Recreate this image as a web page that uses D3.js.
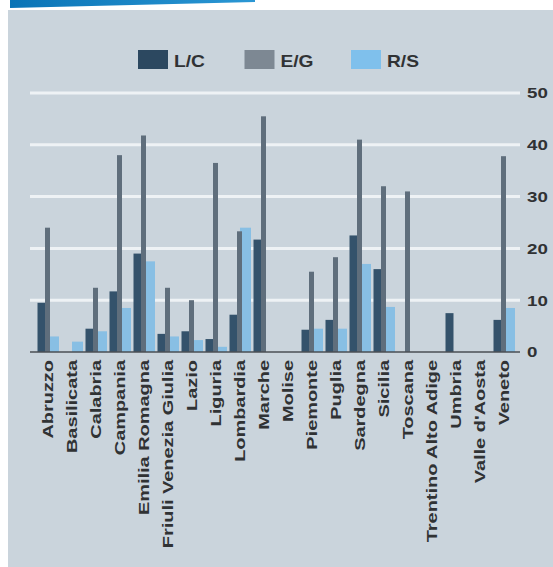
<!DOCTYPE html>
<html>
<head>
<meta charset="utf-8">
<script src="https://cdn.jsdelivr.net/npm/d3@7"></script>
<style>
  body { margin: 0; background: #fff; }
  text { font-family: "Liberation Sans", Arial, sans-serif; fill: #303234; font-weight: bold; }
</style>
</head>
<body>
<div id="chart"></div>
<script>
// regions on the x axis
var regions = ['Abruzzo', 'Basilicata', 'Calabria', 'Campania', 'Emilia Romagna',
  'Friuli Venezia Giulia', 'Lazio', 'Liguria', 'Lombardia', 'Marche', 'Molise',
  'Piemonte', 'Puglia', 'Sardegna', 'Sicilia', 'Toscana', 'Trentino Alto Adige',
  'Umbria', "Valle d'Aosta", 'Veneto']

var seriesNames = ['L/C', 'E/G', 'R/S']

// values
var lcValues = [9.5, 0, 4.5, 11.7, 19, 3.5, 4, 2.5, 7.2, 21.7, 0, 4.3, 6.2, 22.5, 16, 0, 0, 7.5, 0, 6.2]
var egValues = [24, 0, 12.4, 38, 41.8, 12.4, 10, 36.5, 23.3, 45.5, 0, 15.5, 18.3, 41, 32, 31, 0, 0, 0, 37.8]
var rsValues = [3, 2, 4, 8.5, 17.5, 3, 2.3, 1, 24, 0, 0, 4.5, 4.5, 17, 8.7, 0, 0, 0, 0, 8.5]

var yTicks = [0, 10, 20, 30, 40, 50]

var W = 553
var H = 567
var colors = {'L/C': '#34526b', 'E/G': '#5f6e7c', 'R/S': '#88bfe4'}
var swatchColors = {'L/C': '#2c4860', 'E/G': '#7d8893', 'R/S': '#7fc0ec'}

var svg = d3.select('#chart').append('svg')
  .attr('width', W)
  .attr('height', H)

// blue header strip
var defs = svg.append('defs')
var grad = defs.append('linearGradient').attr('id', 'hdr')
grad.append('stop').attr('offset', '0%').attr('stop-color', '#0a74b6')
grad.append('stop').attr('offset', '100%').attr('stop-color', '#2b97d4')
svg.append('path')
  .attr('d', 'M10,0 L255,0 L255,2 L10,8 Z')
  .attr('fill', 'url(#hdr)')

// panel
svg.append('rect')
  .attr('x', 8).attr('y', 10)
  .attr('width', W - 8).attr('height', H - 10)
  .attr('fill', '#cad4dc')

var x = d3.scaleBand()
  .domain(regions)
  .range([36, 516])
  .padding(0)

var y = d3.scaleLinear()
  .domain([0, 50])
  .range([352, 93])

// gridlines
svg.append('g').selectAll('line')
  .data(yTicks.slice(1))
  .enter().append('line')
  .attr('x1', 30).attr('x2', 520)
  .attr('y1', function (d) { return y(d) })
  .attr('y2', function (d) { return y(d) })
  .attr('stroke', '#eef2f5')
  .attr('stroke-width', 3)

// y labels on the right
svg.append('g').selectAll('text')
  .data(yTicks)
  .enter().append('text')
  .attr('transform', function (d) { return 'translate(527,' + y(d) + ') scale(1.25,1)' })
  .attr('dy', '0.36em')
  .style('font-size', '15px')
  .text(function (d) { return d })

// bars: R/S behind, then L/C, then thin E/G on top
var rows = regions.map(function (r, i) {
  return {region: r, lc: lcValues[i], eg: egValues[i], rs: rsValues[i]}
})

var layers = [
  {key: 'rs', name: 'R/S', off: 12, w: 11},
  {key: 'lc', name: 'L/C', off: 1.5, w: 8},
  {key: 'eg', name: 'E/G', off: 9, w: 5}
]

layers.forEach(function (l) {
  svg.append('g').selectAll('rect')
    .data(rows.filter(function (d) { return d[l.key] > 0 }))
    .enter().append('rect')
    .attr('x', function (d) { return x(d.region) + l.off })
    .attr('width', l.w)
    .attr('y', function (d) { return y(d[l.key]) })
    .attr('height', function (d) { return y(0) - y(d[l.key]) })
    .attr('fill', colors[l.name])
})

// baseline
svg.append('line')
  .attr('x1', 30).attr('x2', 520)
  .attr('y1', y(0)).attr('y2', y(0))
  .attr('stroke', '#4a4f55')
  .attr('stroke-width', 1.5)

// x labels, rotated
svg.append('g').selectAll('text')
  .data(regions)
  .enter().append('text')
  .attr('transform', function (d) {
    return 'translate(' + (x(d) + x.bandwidth() / 2 + 5) + ',360) rotate(-90) scale(1.33,1)'
  })
  .attr('text-anchor', 'end')
  .style('font-size', '15px')
  .text(function (d) { return d })

// legend
var lx = d3.scalePoint().domain(seriesNames).range([138, 351])
var legend = svg.append('g').selectAll('g')
  .data(seriesNames)
  .enter().append('g')
  .attr('transform', function (d) { return 'translate(' + lx(d) + ',50)' })

legend.append('rect')
  .attr('width', 30).attr('height', 19)
  .attr('fill', function (d) { return swatchColors[d] })

legend.append('text')
  .attr('transform', 'translate(36,17) scale(1.2,1)')
  .style('font-size', '16px')
  .text(function (d) { return d })
</script>
</body>
</html>
